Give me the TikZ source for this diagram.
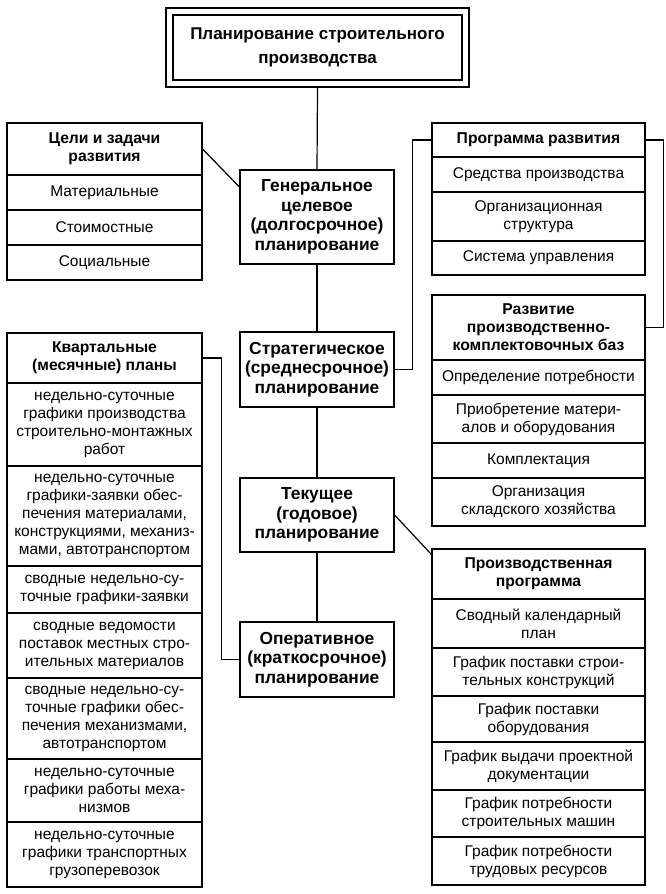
\documentclass[tikz,border=0pt]{standalone}
\usepackage{fontspec}
\setmainfont{Liberation Sans}
\tikzset{
  cell/.style={draw, line width=1.2pt, inner sep=0pt, align=center,
    font=\fontsize{15.5}{18}\selectfont},
  lcol/.style={cell, minimum width=195pt},
  rcol/.style={cell, minimum width=213pt},
  ccol/.style={cell, minimum width=154pt, font=\bfseries\fontsize{17.4}{19.5}\selectfont},
  hdr/.style={font=\bfseries\fontsize{15.7}{18}\selectfont},
  conn/.style={line width=1.2pt},
}
\begin{document}
\begin{tikzpicture}[x=1pt,y=-1pt]
\useasboundingbox (0,0) rectangle (666,894);
\fill[white] (0,0) rectangle (666,894);
% top box
\node[cell, minimum width=289pt, minimum height=65pt, font=\bfseries\fontsize{17}{23.5}\selectfont] (top) at (317.5,47.5)
  {Планирование строительного\\производства};
\draw[line width=1.6pt] ([shift={(-6.5pt,6.5pt)}]top.north west) rectangle ([shift={(6.5pt,-6.5pt)}]top.south east);
\coordinate (topb) at ([yshift=-7.3pt]top.south);
% centre column
\node[ccol, minimum height=94pt] (gen) at (317,217) {Генеральное\\целевое\\(долгосрочное)\\планирование};
\node[ccol, minimum height=75pt] (strat) at (317,369.5) {Стратегическое\\(среднесрочное)\\планирование};
\node[ccol, minimum height=74pt] (cur) at (317,515) {Текущее\\(годовое)\\планирование};
\node[ccol, minimum height=75pt] (oper) at (317,659.5) {Оперативное\\(краткосрочное)\\планирование};
% left top: goals
\node[lcol, hdr, minimum height=52pt] (goals) at (104.5,149) {Цели и задачи\\развития};
\node[lcol, minimum height=35pt] (goals1) at (104.5,192.5) {Материальные};
\node[lcol, minimum height=35pt] (goals2) at (104.5,227.5) {Стоимостные};
\node[lcol, minimum height=35pt] (goals3) at (104.5,262.5) {Социальные};
% left bottom: quarterly
\node[lcol, hdr, minimum height=50pt] (quart) at (104.5,358) {Квартальные\\(месячные) планы};
\node[lcol, minimum height=83pt] (q1) at (104.5,424.5) {недельно-суточные\\графики производства\\строительно-монтажных\\работ};
\node[lcol, minimum height=100pt] (q2) at (104.5,516) {недельно-суточные\\графики-заявки обес-\\печения материалами,\\конструкциями, механиз-\\мами, автотранспортом};
\node[lcol, minimum height=47pt] (q3) at (104.5,589.5) {сводные недельно-су-\\точные графики-заявки};
\node[lcol, minimum height=65pt] (q4) at (104.5,645.5) {сводные ведомости\\поставок местных стро-\\ительных материалов};
\node[lcol, minimum height=81pt] (q5) at (104.5,718.5) {сводные недельно-су-\\точные графики обес-\\печения механизмами,\\автотранспортом};
\node[lcol, minimum height=63pt] (q6) at (104.5,790.5) {недельно-суточные\\графики работы меха-\\низмов};
\node[lcol, minimum height=65pt] (q7) at (104.5,854.5) {недельно-суточные\\графики транспортных\\грузоперевозок};
% right: programme
\node[rcol, hdr, minimum height=34pt] (prog) at (538.5,140) {Программа развития};
\node[rcol, minimum height=35pt] (prog1) at (538.5,174.5) {Средства производства};
\node[rcol, minimum height=49pt] (prog2) at (538.5,216.5) {Организационная\\структура};
\node[rcol, minimum height=34pt] (prog3) at (538.5,258) {Система управления};
% right: bases
\node[rcol, hdr, minimum height=65pt] (base) at (538.5,327.5) {Развитие\\производственно-\\комплектовочных баз};
\node[rcol, minimum height=35pt] (base1) at (538.5,377.5) {Определение потребности};
\node[rcol, minimum height=48pt] (base2) at (538.5,419) {Приобретение матери-\\алов и оборудования};
\node[rcol, minimum height=35pt] (base3) at (538.5,460.5) {Комплектация};
\node[rcol, minimum height=48pt] (base4) at (538.5,502) {Организация\\складского хозяйства};
% right: production programme
\node[rcol, hdr, minimum height=50pt] (prod) at (538.5,574) {Производственная\\программа};
\node[rcol, minimum height=49pt] (p1) at (538.5,623.5) {Сводный календарный\\план};
\node[rcol, minimum height=48pt] (p2) at (538.5,672) {График поставки строи-\\тельных конструкций};
\node[rcol, minimum height=46pt] (p3) at (538.5,719) {График поставки\\оборудования};
\node[rcol, minimum height=48pt] (p4) at (538.5,766) {График выдачи проектной\\документации};
\node[rcol, minimum height=47pt] (p5) at (538.5,813.5) {График потребности\\строительных машин};
\node[rcol, minimum height=48pt] (p6) at (538.5,861) {График потребности\\трудовых ресурсов};
% connectors
\draw[conn] (topb) -- (gen.north);
\draw[conn] (gen.south) -- (strat.north);
\draw[conn] (strat.south) -- (cur.north);
\draw[conn] (cur.south) -- (oper.north);
\draw[conn] (goals.east) -- ([yshift=30pt]gen.west);
\draw[conn] (cur.east) -- ([yshift=-6pt]prod.north west);
\draw[conn] (prog.west) -- ++(-19pt,0) |- (strat.east);
\draw[conn] (prog.east) -- ++(18pt,0) |- (base.east);
\draw[conn] (quart.east) -- ++(19pt,0) |- (oper.west);
\end{tikzpicture}
\end{document}
